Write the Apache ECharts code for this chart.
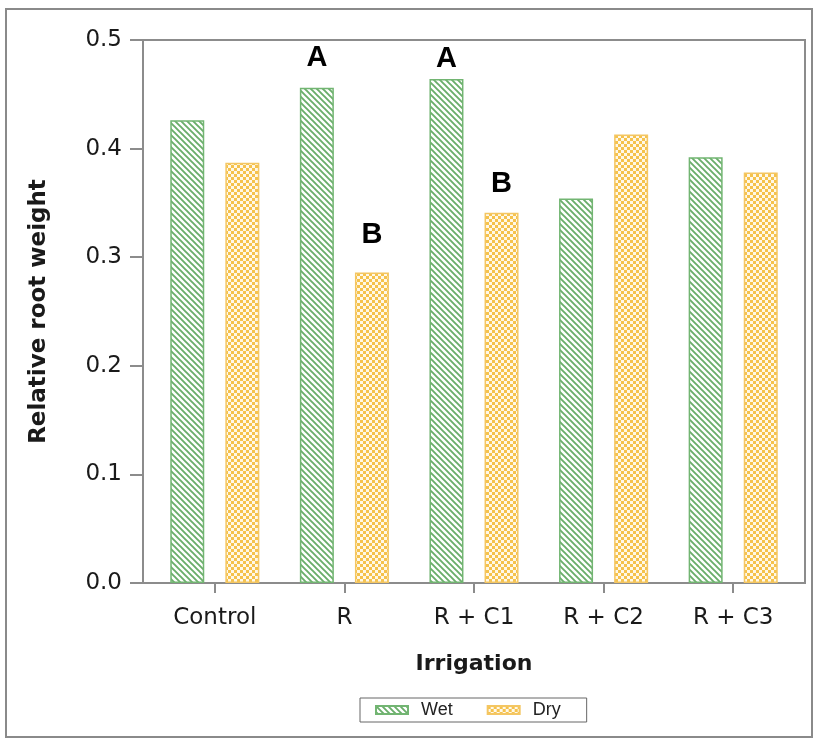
<!DOCTYPE html>
<html><head><meta charset="utf-8">
<script src="https://cdn.jsdelivr.net/npm/echarts@6/dist/echarts.min.js"></script>
<style>html,body{margin:0;padding:0;background:#fff}#c{width:818px;height:740px}</style>
</head><body><div id="c"></div>
<script>
var categories = ['Control', 'R', 'R + C1', 'R + C2', 'R + C3'];
var wetValues = [0.426, 0.456, 0.464, 0.354, 0.392];
var dryValues = [0.387, 0.286, 0.341, 0.413, 0.378];
var wetLetters = ['', 'A', 'A', '', ''];
var dryLetters = ['', 'B', 'B', '', ''];
var yTicks = [0, 0.1, 0.2, 0.3, 0.4, 0.5];

function hatch() {
  var s = 6, c = document.createElement('canvas');
  c.width = s; c.height = s;
  var g = c.getContext('2d');
  g.fillStyle = '#ffffff'; g.fillRect(0, 0, s, s);
  g.strokeStyle = '#6aae6a'; g.lineWidth = 1.9;
  g.beginPath();
  g.moveTo(0, 0); g.lineTo(s, s);
  g.moveTo(-1, s - 1); g.lineTo(1, s + 1);
  g.moveTo(s - 1, -1); g.lineTo(s + 1, 1);
  g.stroke();
  return c;
}
function checker() {
  var s = 6, c = document.createElement('canvas');
  c.width = s; c.height = s;
  var g = c.getContext('2d');
  g.fillStyle = '#fff8e8'; g.fillRect(0, 0, s, s);
  g.fillStyle = '#f5c24c';
  g.fillRect(0, 0, 3, 3); g.fillRect(3, 3, 3, 3);
  return c;
}

var wetPattern = { image: hatch(), repeat: 'repeat' };
var dryPattern = { image: checker(), repeat: 'repeat' };

var wetDist = [0, 15, 6, 0, 0];
var dryDist = [0, 23, 14, 0, 0];
function mkData(vals, letters, dists) {
  return vals.map(function (v, i) {
    return { value: v, label: { show: letters[i] !== '', formatter: letters[i], distance: dists[i] } };
  });
}

var chart = echarts.init(document.getElementById('c'), null, { renderer: 'canvas' });
var axisGray = '#8c8c8c';
chart.setOption({
  animation: false,
  backgroundColor: '#ffffff',
  graphic: [{
    type: 'rect', shape: { x: 6, y: 9, width: 806, height: 728 },
    style: { fill: 'none', stroke: '#8a8a8a', lineWidth: 2 }, silent: true
  }],
  grid: [
    { left: 143, right: 13, top: 40, bottom: 157, show: true, borderColor: axisGray, borderWidth: 2, backgroundColor: 'transparent' },
    { left: 150, right: 20, top: 40, bottom: 157 }
  ],
  legend: {
    data: ['Wet', 'Dry'],
    left: 360, top: 698,
    orient: 'horizontal',
    borderColor: '#666', borderWidth: 1,
    padding: [3, 26, 3, 15],
    itemWidth: 32, itemHeight: 8, itemGap: 34,
    icon: 'rect',
    textStyle: { fontFamily: 'Liberation Sans', fontSize: 18, color: '#222', padding: [0, 0, 0, 8] }
  },
  xAxis: [
    { gridIndex: 0, type: 'value', min: 0, max: 1, show: false },
    {
      gridIndex: 1, type: 'category', data: categories,
      axisLine: { show: false },
      axisTick: { show: true, alignWithLabel: true, length: 10, lineStyle: { color: axisGray, width: 2 } },
      axisLabel: { fontFamily: 'DejaVu Sans', fontSize: 23, color: '#1a1a1a', margin: 24 },
      name: 'Irrigation', nameLocation: 'middle', nameGap: 70,
      nameTextStyle: { fontFamily: 'DejaVu Sans', fontWeight: 'bold', fontSize: 22, color: '#1a1a1a' }
    }
  ],
  yAxis: [
    {
      gridIndex: 0, type: 'value', min: 0, max: 0.5, interval: 0.1,
      splitLine: { show: false },
      axisLine: { show: true, lineStyle: { color: axisGray, width: 2 } },
      axisTick: { show: true, length: 13, lineStyle: { color: axisGray, width: 2 } },
      axisLabel: { fontFamily: 'DejaVu Sans', fontSize: 23, color: '#1a1a1a', margin: 21,
        formatter: function (v) { return v.toFixed(1); } },
      name: 'Relative root weight', nameLocation: 'middle', nameGap: 92,
      nameTextStyle: { fontFamily: 'DejaVu Sans', fontWeight: 'bold', fontSize: 23, color: '#1a1a1a' }
    },
    { gridIndex: 1, type: 'value', min: 0, max: 0.5, interval: 0.1, show: false, splitLine: { show: false } }
  ],
  series: [
    {
      name: 'Wet', type: 'bar', xAxisIndex: 1, yAxisIndex: 1,
      barWidth: 34, barGap: '62%',
      data: mkData(wetValues, wetLetters, wetDist),
      itemStyle: { color: wetPattern, borderColor: '#72b572', borderWidth: 1.5 },
      label: { position: 'top', fontFamily: 'Liberation Sans', fontWeight: 'bold', fontSize: 29, color: '#000' }
    },
    {
      name: 'Dry', type: 'bar', xAxisIndex: 1, yAxisIndex: 1,
      barWidth: 34,
      data: mkData(dryValues, dryLetters, dryDist),
      itemStyle: { color: dryPattern, borderColor: '#f4c662', borderWidth: 1.5 },
      label: { position: 'top', fontFamily: 'Liberation Sans', fontWeight: 'bold', fontSize: 29, color: '#000' }
    }
  ]
});
</script></body></html>
